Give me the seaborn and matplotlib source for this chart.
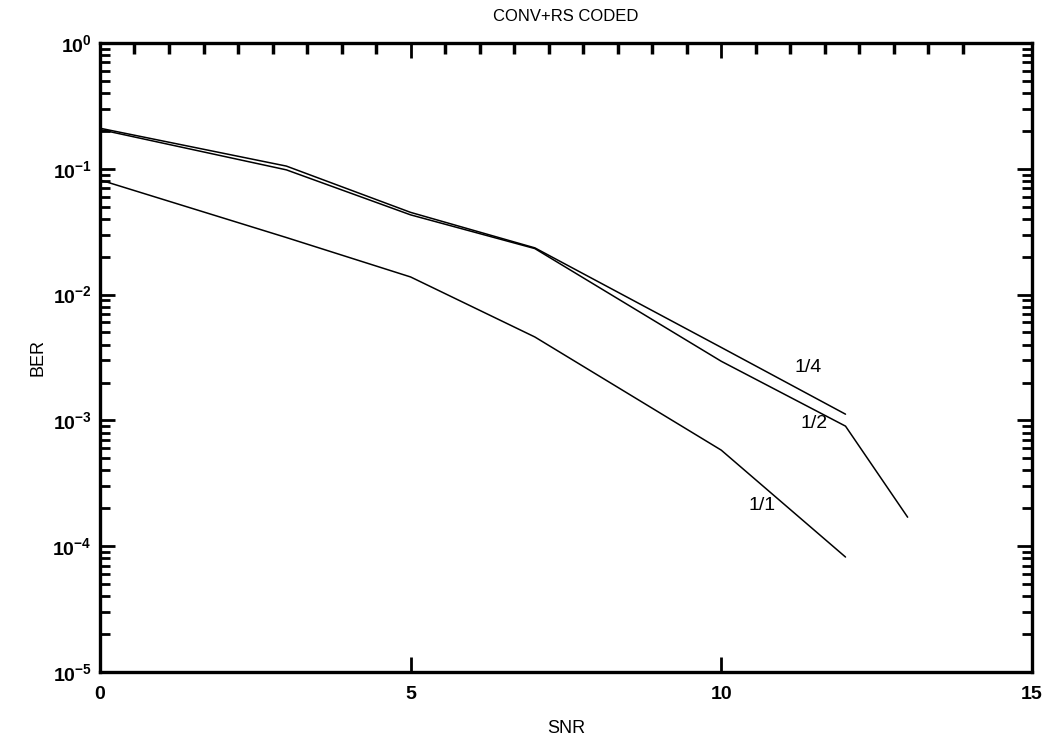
"""
BER vs SNR for the convolutional + Reed-Solomon coded link, one curve per rate.

Run:
    python plot.py
"""

import matplotlib
matplotlib.use("Agg")
import matplotlib.pyplot as plt
import numpy as np
import pandas as pd
import seaborn as sns
from matplotlib.ticker import FixedLocator, LogLocator, NullFormatter


SNR = [0, 3, 5, 7, 10, 12, 13]
BER_RATE_1_4 = [0.21, 0.105, 0.045, 0.0235, 3.8e-3, 1.12e-3]
BER_RATE_1_2 = [0.205, 0.098, 0.043, 0.0232, 2.95e-3, 9.0e-4, 1.7e-4]
BER_RATE_1_1 = [0.0815, 0.0284, 0.0138, 4.6e-3, 5.8e-4, 8.2e-5]

RATE_NAMES = ["1/4", "1/2", "1/1"]
LABEL_POS = {"1/4": (11.4, 2.65e-3), "1/2": (11.5, 9.5e-4), "1/1": (10.65, 2.1e-4)}

Y_TICKS = [1e-5, 1e-4, 1e-3, 1e-2, 1e-1, 1e0]
Y_TICK_LABELS = [r"$\mathbf{10^{-5}}$", r"$\mathbf{10^{-4}}$", r"$\mathbf{10^{-3}}$",
                 r"$\mathbf{10^{-2}}$", r"$\mathbf{10^{-1}}$", r"$\mathbf{10^{0}}$"]
X_TICKS = [0, 5, 10, 15]


def build_frame():
    rows = []
    for name, values in zip(RATE_NAMES, [BER_RATE_1_4, BER_RATE_1_2, BER_RATE_1_1]):
        for snr, ber in zip(SNR, values):
            rows.append({"SNR": snr, "BER": ber, "rate": name})
    return pd.DataFrame(rows)


def main():
    sns.set_style("ticks")
    plt.rcParams["font.family"] = ["Liberation Sans", "DejaVu Sans"]
    plt.rcParams["mathtext.fontset"] = "custom"
    plt.rcParams["mathtext.rm"] = "Liberation Sans"
    plt.rcParams["mathtext.bf"] = "Liberation Sans:bold"
    for key in ["text.color", "axes.edgecolor", "axes.labelcolor", "xtick.color", "ytick.color"]:
        plt.rcParams[key] = "black"

    df = build_frame()

    fig = plt.figure(figsize=(10.59, 7.48), dpi=100)
    ax = fig.add_axes([0.0944, 0.1016, 0.88, 0.841])

    sns.lineplot(
        data=df,
        x="SNR",
        y="BER",
        hue="rate",
        palette={name: "black" for name in RATE_NAMES},
        estimator=None,
        legend=False,
        linewidth=1.1,
        ax=ax,
    )

    ax.set_yscale("log")
    ax.set_xlim(0, 15)
    ax.set_ylim(1e-5, 1)

    ax.set_yticks(Y_TICKS)
    ax.set_yticklabels(Y_TICK_LABELS, fontsize=14)
    ax.yaxis.set_minor_locator(LogLocator(base=10, subs=np.arange(2, 10)))
    ax.yaxis.set_minor_formatter(NullFormatter())

    ax.set_xticks(X_TICKS)
    ax.set_xticklabels([str(t) for t in X_TICKS], fontsize=14, fontweight="bold")
    # the scanned top edge carries a run of small marks
    top_marks = [t * 5 / 9 for t in range(26)
                 if abs(t * 5 / 9 - round(t * 5 / 9 / 5) * 5) > 0.2 and t * 5 / 9 < 14]
    ax.xaxis.set_minor_locator(FixedLocator(top_marks))

    ax.tick_params(axis="both", which="major", direction="in", length=11, width=2,
                   top=True, right=True, pad=6)
    ax.tick_params(axis="y", which="minor", direction="in", length=7, width=2,
                   left=True, right=True)
    ax.tick_params(axis="x", which="minor", direction="in", length=8, width=2.5,
                   top=True, bottom=False)
    ax.tick_params(axis="x", which="major", pad=10)

    for spine in ax.spines.values():
        spine.set_linewidth(2.4)

    for name, (x, y) in LABEL_POS.items():
        ax.text(x, y, name, ha="center", va="center", fontsize=14)

    ax.set_title("CONV+RS CODED", fontsize=12, pad=16)
    ax.set_xlabel("SNR", fontsize=13, labelpad=12)
    ax.set_ylabel("BER", fontsize=13, labelpad=4)

    fig.savefig("out.png", dpi=100)
    plt.close(fig)


if __name__ == "__main__":
    main()
